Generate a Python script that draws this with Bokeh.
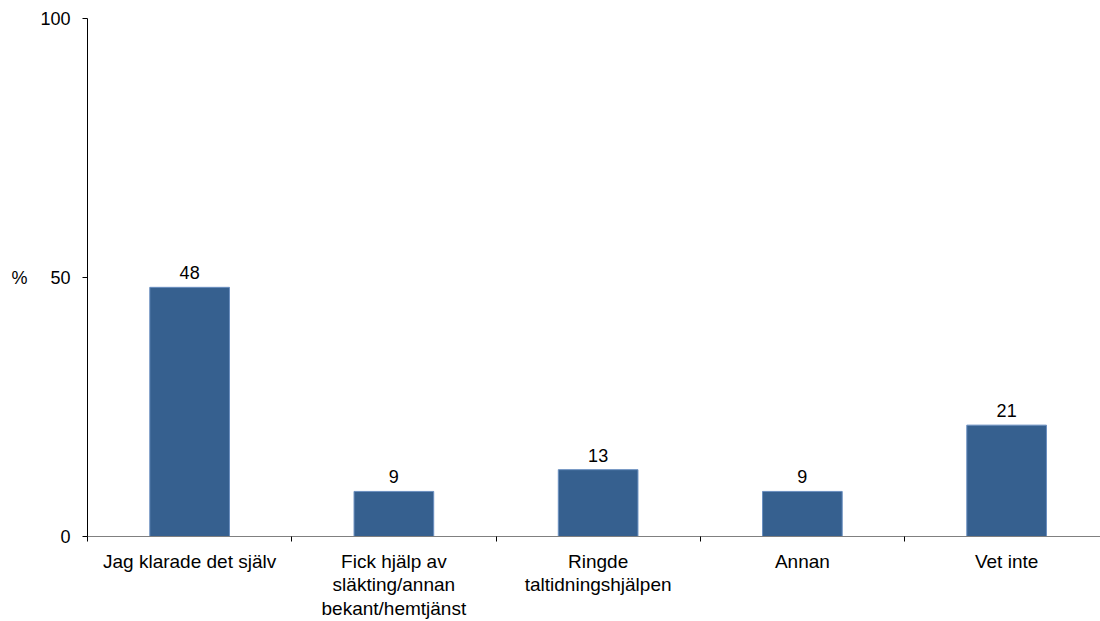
from bokeh.plotting import figure
from bokeh.models import Range1d, FixedTicker, ColumnDataSource
from bokeh.core.properties import value
from bokeh.embed import file_html
from bokeh.resources import INLINE

categories = ["Jag klarade det själv", "Fick hjälp av\nsläkting/annan\nbekant/hemtjänst",
              "Ringde\ntaltidningshjälpen", "Annan", "Vet inte"]
values = [48.1, 8.7, 12.9, 8.7, 21.5]
labels = ["48", "9", "13", "9", "21"]
y_ticks = [0, 50, 100]

FONT = "Liberation Sans"
centers = [i + 0.5 for i in range(len(categories))]

p = figure(width=1100, height=621, output_backend="svg", toolbar_location=None,
           min_border_left=87, min_border_right=0, min_border_top=18, min_border_bottom=83)
p.x_range = Range1d(0, 1013 / 204.25)
p.y_range = Range1d(0, 100)
p.outline_line_color = None
p.xgrid.visible = False
p.ygrid.visible = False

src = ColumnDataSource(dict(x=centers, top=values, lab=labels))
p.vbar(x="x", top="top", bottom=0, width=0.39, source=src,
       fill_color="#36608f", line_color="#6a8fc0", line_width=1)
p.text(x="x", y="top", text="lab", source=src, text_align="center", text_baseline="bottom",
       y_offset=-8, text_font=value(FONT), text_font_size="18px", text_color="#000000")

xa = p.xaxis[0]
xa.ticker = FixedTicker(ticks=centers, minor_ticks=list(range(len(categories))))
xa.major_label_overrides = {c: lab for c, lab in zip(centers, categories)}
xa.major_tick_line_color = None
xa.minor_tick_out = 5
xa.minor_tick_in = 0
xa.minor_tick_line_color = "#000000"
xa.axis_line_color = "#808080"
xa.axis_line_width = 1
xa.major_label_text_font = FONT
xa.major_label_text_font_size = "19px"
xa.major_label_text_color = "#000000"
xa.major_label_text_line_height = 1.12
xa.major_label_standoff = 8

ya = p.yaxis[0]
ya.ticker = FixedTicker(ticks=y_ticks)
ya.minor_tick_line_color = None
ya.major_tick_out = 5
ya.major_tick_in = 0
ya.axis_line_color = "#000000"
ya.major_label_text_font = FONT
ya.major_label_text_font_size = "18px"
ya.major_label_text_color = "#000000"
ya.major_label_standoff = 12
ya.axis_label = "%"
ya.axis_label_orientation = "horizontal"
ya.axis_label_text_font = FONT
ya.axis_label_text_font_size = "18px"
ya.axis_label_text_font_style = "normal"
ya.axis_label_text_color = "#000000"
ya.axis_label_standoff = 10

open("out.html", "w").write(file_html(p, INLINE))
